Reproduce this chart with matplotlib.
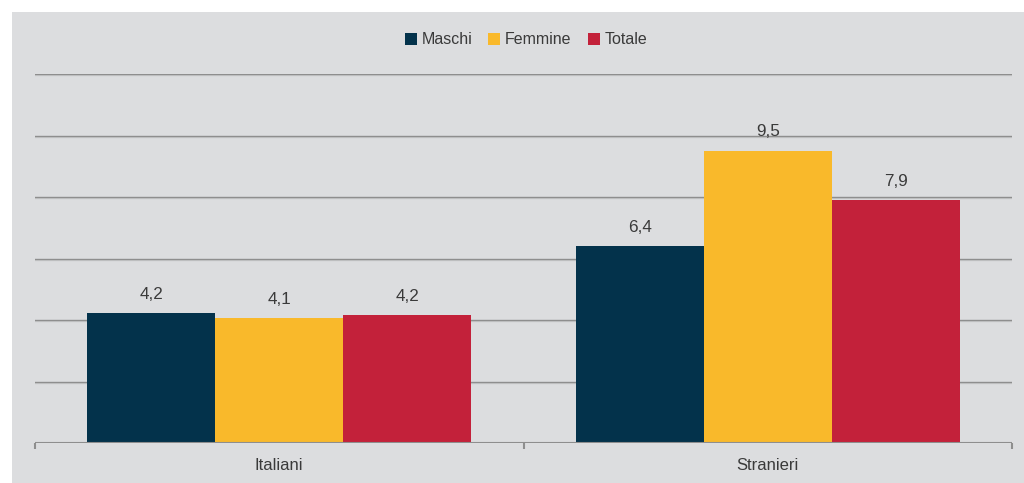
import matplotlib
matplotlib.use("Agg")
import matplotlib.pyplot as plt
from matplotlib.patches import Rectangle, Patch
import numpy as np

categories = ["Italiani", "Stranieri"]
series_names = ["Maschi", "Femmine", "Totale"]
maschi = [4.24, 6.40]
femmine = [4.07, 9.51]
totale = [4.16, 7.89]
label_maschi = ["4,2", "6,4"]
label_femmine = ["4,1", "9,5"]
label_totale = ["4,2", "7,9"]
colors = ["#03324B", "#F9B92B", "#C3213A"]
bg = "#DCDDDF"
txt = "#3A3A3A"

plt.rcParams['font.family'] = ['Liberation Sans', 'DejaVu Sans']

fig = plt.figure(figsize=(10.24, 4.83), dpi=100)
fig.patches.append(Rectangle((12/1024, 0), 1 - 12/1024, 1 - 12/483,
                             transform=fig.transFigure, facecolor=bg, edgecolor='none', zorder=-10))

ax = fig.add_axes([35/1024, 40/483, (1012-35)/1024, 369/483])
ax.set_facecolor('none')
for s in ax.spines.values():
    s.set_visible(False)

x = np.arange(len(categories))
w = 0.262
series = [maschi, femmine, totale]
labels = [label_maschi, label_femmine, label_totale]
for i, (vals, labs, c) in enumerate(zip(series, labels, colors)):
    bars = ax.bar(x + (i - 1) * w, vals, width=w, color=c, zorder=3)
    for b, lab in zip(bars, labs):
        ax.annotate(lab, (b.get_x() + b.get_width()/2, b.get_height()),
                    xytext=(0, 8), textcoords='offset points', ha='center', va='bottom',
                    fontsize=12.3, color=txt)

ax.set_xlim(-0.5, 1.5)
ax.set_ylim(0, 12)
ax.set_yticks([])
for yv in [2, 4, 6, 8, 10, 12]:
    ax.axhline(yv, color='#8E8E8E', lw=1.0, zorder=1)
    ax.axhline(yv - 0.035, color='#C9CACC', lw=1.0, zorder=0.9)
ax.axhline(0, color='#8E8E8E', lw=1.5, zorder=4)

ax.set_xticks(x)
ax.set_xticklabels(categories, fontsize=12, color=txt)
ax.tick_params(axis='x', which='major', length=0, pad=11)
ax.set_xticks([-0.5, 0.5, 1.5], minor=True)
ax.tick_params(axis='x', which='minor', length=4, width=1.5, color='#8E8E8E')

handles = [Patch(facecolor=c, edgecolor='none') for c in colors]
fig.legend(handles, series_names, loc='center', bbox_to_anchor=(526/1024, 1 - 40/483),
           ncol=3, frameon=False, fontsize=11.5, handlelength=0.75, handleheight=0.75,
           handletextpad=0.3, columnspacing=1.0, labelcolor=txt)

fig.savefig("out.png", dpi=100, facecolor='white')
